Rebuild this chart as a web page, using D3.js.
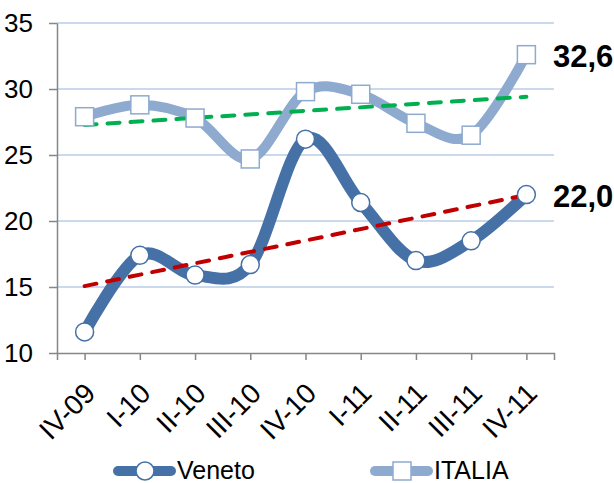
<!DOCTYPE html>
<html>
<head>
<meta charset="utf-8">
<script src="https://cdn.jsdelivr.net/npm/d3@7"></script>
<style>
  body { margin: 0; background: #fff; }
  svg text { font-family: "Liberation Sans", Arial, sans-serif; fill: #000; }
  svg text.narrow { font-family: "Liberation Sans Narrow", "Arial Narrow", sans-serif; }
</style>
</head>
<body>
<svg id="chart"></svg>
<script>
const periodi = ['IV-09', 'I-10', 'II-10', 'III-10', 'IV-10', 'I-11', 'II-11', 'III-11', 'IV-11'];
const veneto = [11.6, 17.4, 15.9, 16.7, 26.2, 21.4, 17.0, 18.5, 22.0];
const italia = [27.9, 28.8, 27.8, 24.7, 29.8, 29.6, 27.4, 26.5, 32.6];
const ticksY = [10, 15, 20, 25, 30, 35];

const w = 614;
const h = 483;
const coloreVeneto = '#4571a7';
const coloreItalia = '#8eaacf';

const svg = d3.select('#chart').attr('width', w).attr('height', h);

const x = d3.scalePoint().domain(periodi).range([57, 554]).padding(0.5);
const y = d3.scaleLinear().domain([10, 35]).range([353, 23]);

// griglia
svg.append('g')
  .selectAll('line')
  .data(ticksY.filter(d => d > 10))
  .enter()
  .append('line')
  .attr('x1', 57).attr('x2', 554)
  .attr('y1', d => y(d)).attr('y2', d => y(d))
  .style('stroke', '#b8cce6')
  .style('stroke-width', 1.5);

// assi
const ejeY = d3.axisLeft(y).tickValues(ticksY).tickSize(8).tickSizeOuter(0).tickFormat(d3.format('d'));
const gY = svg.append('g').attr('transform', 'translate(57, 0)').call(ejeY);
gY.selectAll('path, line').style('stroke', '#868686').style('stroke-width', 1.5);
gY.selectAll('text').attr('class', 'narrow').attr('x', -24).style('font-size', '26px');

const ejeX = d3.axisBottom(x).tickSize(7).tickSizeOuter(7);
const gX = svg.append('g').attr('transform', 'translate(0, ' + y(10) + ')').call(ejeX);
gX.selectAll('path, line').style('stroke', '#868686').style('stroke-width', 1.5);
gX.selectAll('text')
  .attr('class', 'narrow')
  .attr('y', 0).attr('dy', 0)
  .attr('transform', 'translate(12, 42) rotate(-45)')
  .attr('text-anchor', 'end')
  .style('font-size', '28px');

// linee di tendenza (minimi quadrati, come Excel)
function tendenza(valori) {
  const n = valori.length;
  const mx = (n - 1) / 2;
  const my = d3.mean(valori);
  let num = 0, den = 0;
  valori.forEach((v, i) => { num += (i - mx) * (v - my); den += (i - mx) * (i - mx); });
  const b = num / den;
  return [my - b * mx, my + b * (n - 1 - mx)];
}

function disegnaTrend(valori, colore) {
  const t = tendenza(valori);
  svg.append('line')
    .attr('x1', x(periodi[0])).attr('y1', y(t[0]))
    .attr('x2', x(periodi[periodi.length - 1])).attr('y2', y(t[1]))
    .style('stroke', colore)
    .style('stroke-width', 4)
    .style('stroke-dasharray', '12,11')
    .style('stroke-linecap', 'round');
}

const linea = d3.line()
  .x((d, i) => x(periodi[i]))
  .y(d => y(d))
  .curve(d3.curveCatmullRom.alpha(0));

// ITALIA
svg.append('path')
  .attr('d', linea(italia))
  .style('fill', 'none')
  .style('stroke', coloreItalia)
  .style('stroke-width', 10);
disegnaTrend(italia, '#00b050');
svg.append('g')
  .selectAll('rect')
  .data(italia)
  .enter()
  .append('rect')
  .attr('x', (d, i) => x(periodi[i]) - 9)
  .attr('y', d => y(d) - 9)
  .attr('width', 18).attr('height', 18)
  .style('fill', '#fff')
  .style('stroke', coloreItalia)
  .style('stroke-width', 1.5);

// Veneto
svg.append('path')
  .attr('d', linea(veneto))
  .style('fill', 'none')
  .style('stroke', coloreVeneto)
  .style('stroke-width', 12);
disegnaTrend(veneto, '#c00000');
svg.append('g')
  .selectAll('circle')
  .data(veneto)
  .enter()
  .append('circle')
  .attr('cx', (d, i) => x(periodi[i]))
  .attr('cy', d => y(d))
  .attr('r', 9)
  .style('fill', '#fff')
  .style('stroke', coloreVeneto)
  .style('stroke-width', 1.5);

// etichette ultimo valore
const fmt = v => v.toFixed(1).replace('.', ',');
[italia, veneto].forEach(s => {
  svg.append('text')
    .attr('x', 553)
    .attr('y', y(s[s.length - 1]) + 12)
    .style('font-size', '31px')
    .style('font-weight', 'bold')
    .text(fmt(s[s.length - 1]));
});

// legenda
const legenda = [
  {nome: 'Veneto', colore: coloreVeneto, x: 113, forma: 'circle'},
  {nome: 'ITALIA', colore: coloreItalia, x: 370, forma: 'rect'}
];
const ly = 471;
legenda.forEach(l => {
  svg.append('line')
    .attr('x1', l.x + 5).attr('x2', l.x + 58)
    .attr('y1', ly).attr('y2', ly)
    .style('stroke', l.colore)
    .style('stroke-width', 10)
    .style('stroke-linecap', 'round');
  if (l.forma === 'circle') {
    svg.append('circle').attr('cx', l.x + 32).attr('cy', ly).attr('r', 9)
      .style('fill', '#fff').style('stroke', l.colore).style('stroke-width', 1.5);
  } else {
    svg.append('rect').attr('x', l.x + 23).attr('y', ly - 9).attr('width', 18).attr('height', 18)
      .style('fill', '#fff').style('stroke', l.colore).style('stroke-width', 1.5);
  }
  svg.append('text')
    .attr('x', l.x + 64)
    .attr('y', ly + 8)
    .style('font-size', '25px')
    .text(l.nome);
});
</script>
</body>
</html>
